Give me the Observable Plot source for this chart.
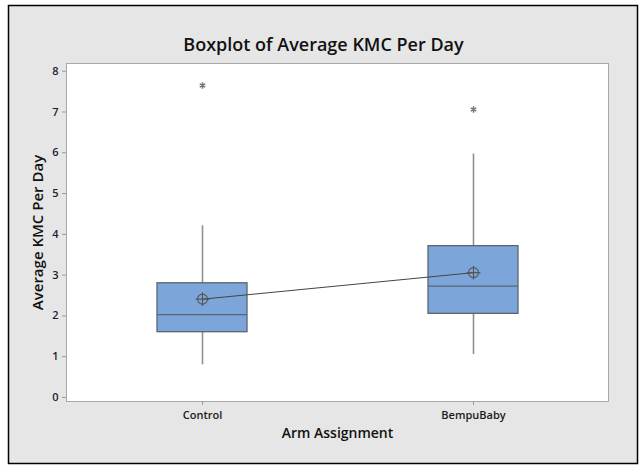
<!DOCTYPE html>
<html><head><meta charset="utf-8">
<script src="https://cdn.jsdelivr.net/npm/d3@7"></script>
<script src="https://cdn.jsdelivr.net/npm/@observablehq/plot@0.6"></script>
<style>body{margin:0;background:#fff} svg{display:block}</style>
</head><body><div id="chart"></div>
<script>
const arms = ["Control", "BempuBaby"];
const q1 = [1.60, 2.05];
const median = [2.03, 2.73];
const q3 = [2.80, 3.71];
const whiskerLow = [0.80, 1.05];
const whiskerHigh = [4.21, 5.97];
const means = [2.41, 3.06];
const outlierArm = ["Control", "BempuBaby"];
const outlierValue = [7.65, 7.06];
const yTicks = [0, 1, 2, 3, 4, 5, 6, 7, 8];
const title = "Boxplot of Average KMC Per Day";
const xLabel = "Arm Assignment";
const yLabel = "Average KMC Per Day";

const boxes = arms.map((a, i) => ({arm: a, q1: q1[i], median: median[i], q3: q3[i], lo: whiskerLow[i], hi: whiskerHigh[i], mean: means[i]}));
const outliers = outlierArm.map((a, i) => ({arm: a, value: outlierValue[i]}));

const font = "'Open Sans', 'Noto Sans', sans-serif";

const background = () => {
  const g = d3.create("svg:g");
  g.append("rect").attr("x", 8.5).attr("y", 5.5).attr("width", 629).attr("height", 458)
    .attr("fill", "#e6e6e6").attr("stroke", "#000").attr("stroke-width", 1.5);
  return g.node();
};

const chart = Plot.plot({
  width: 641, height: 467,
  marginLeft: 66, marginRight: 33, marginTop: 63, marginBottom: 66,
  style: {fontFamily: font, background: "white", color: "#1a1a1a"},
  x: {type: "band", domain: arms, paddingInner: 0.668, paddingOuter: 0.334, align: 0.5, axis: null},
  y: {domain: [-0.1, 8.19], axis: null},
  marks: [
    background,
    Plot.frame({fill: "white", stroke: "#a8a8a8"}),
    Plot.axisY({ticks: yTicks, tickSize: 4, tickPadding: 4, stroke: "#9a9a9a", fill: "#1c1c34", fontSize: 11, fontWeight: 600, tickFormat: d => d, label: null}),
    Plot.axisX({tickSize: 4, tickPadding: 6, stroke: "#9a9a9a", fill: "#1a1a1a", fontSize: 11, fontWeight: 600, label: null}),
    Plot.ruleX(boxes, {x: "arm", y1: "q3", y2: "hi", stroke: "#909090", strokeWidth: 1.6}),
    Plot.ruleX(boxes, {x: "arm", y1: "lo", y2: "q1", stroke: "#909090", strokeWidth: 1.6}),
    Plot.barY(boxes, {x: "arm", y1: "q1", y2: "q3", fill: "#7ca6d9", stroke: "#5b6572", strokeWidth: 1.3}),
    Plot.tickY(boxes, {x: "arm", y: "median", stroke: "#5b6572", strokeWidth: 1.3}),
    Plot.line(boxes, {x: "arm", y: "mean", stroke: "#444", strokeWidth: 1}),
    Plot.dot(boxes, {x: "arm", y: "mean", r: 5, stroke: "#555", fill: "none", strokeWidth: 1.1}),
    Plot.dot(boxes, {x: "arm", y: "mean", r: 4.5, symbol: "plus", stroke: "#555", strokeWidth: 1.1}),
    Plot.dot(outliers, {x: "arm", y: "value", symbol: "asterisk", r: 3, stroke: "#777", strokeWidth: 1.5}),
    Plot.text([title], {frameAnchor: "top", dx: -14, dy: -25, fontSize: 18, fontWeight: 600, fill: "#111"}),
    Plot.text([xLabel], {frameAnchor: "bottom", dy: 36, fontSize: 14, fontWeight: 600, fill: "#111"}),
    Plot.text([yLabel], {frameAnchor: "left", textAnchor: "middle", dx: -28, rotate: -90, fontSize: 15, fontWeight: 600, fill: "#111"})
  ]
});
document.getElementById("chart").append(chart);
</script>
</body></html>
